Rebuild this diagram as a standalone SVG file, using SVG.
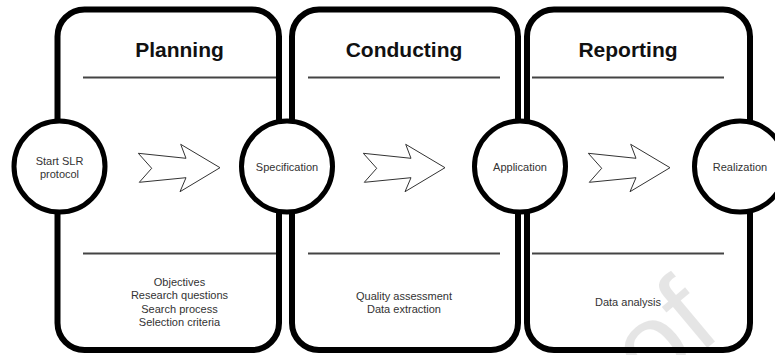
<svg xmlns="http://www.w3.org/2000/svg" width="775" height="355" viewBox="0 0 775 355">
<style>
.box{fill:#fff;stroke:#000;stroke-width:6}
.sep{stroke:#444;stroke-width:2}
.circ{fill:#fff;stroke:#000;stroke-width:5}
.title{font-family:"Liberation Sans",Arial,sans-serif;font-weight:bold;font-size:21px;fill:#111;text-anchor:middle}
.lbl{font-family:"Liberation Sans",Arial,sans-serif;font-size:11px;fill:#333;text-anchor:middle}
.arr{fill:#fff;stroke:#333;stroke-width:1;stroke-linejoin:miter}
.wm{font-family:"Liberation Sans",Arial,sans-serif;font-size:115px;fill:#000;fill-opacity:0.1}
</style>
<defs>
<polygon id="chev" points="138.3,153.3 186,158.3 180.7,144.3 220,167.7 180,191.7 186,177.7 139.3,182.3 151.7,168.3"/>
</defs>
<rect width="775" height="355" fill="#fff"/>
<g id="planning">
<rect class="box" x="57.5" y="9.5" width="221.5" height="340.5" rx="27"/>
<text class="title" x="179.5" y="57.3">Planning</text>
<line class="sep" x1="83" y1="77.5" x2="276" y2="77.5"/>
<line class="sep" x1="83" y1="253.5" x2="276" y2="253.5"/>
<text class="lbl" x="179.5" y="285.5">Objectives</text>
<text class="lbl" x="179.5" y="299">Research questions</text>
<text class="lbl" x="179.5" y="312.5">Search process</text>
<text class="lbl" x="179.5" y="326">Selection criteria</text>
</g>
<g id="conducting">
<rect class="box" x="292" y="9.5" width="226" height="340.5" rx="27"/>
<text class="title" x="404" y="57.3">Conducting</text>
<line class="sep" x1="308" y1="77.5" x2="500" y2="77.5"/>
<line class="sep" x1="308" y1="253.5" x2="500" y2="253.5"/>
<text class="lbl" x="404" y="299.5">Quality assessment</text>
<text class="lbl" x="404" y="313">Data extraction</text>
</g>
<g id="reporting">
<rect class="box" x="527" y="9.5" width="223" height="340.5" rx="27"/>
<text class="title" x="628" y="57.3">Reporting</text>
<line class="sep" x1="532" y1="77.5" x2="724" y2="77.5"/>
<line class="sep" x1="532" y1="253.5" x2="724" y2="253.5"/>
<text class="lbl" x="628" y="305.5">Data analysis</text>
</g>
<g id="connectors">
<use href="#chev" class="arr"/>
<use href="#chev" class="arr" transform="translate(225,0)"/>
<use href="#chev" class="arr" transform="translate(450,0)"/>
</g>
<g id="start">
<circle class="circ" cx="59.5" cy="166.5" r="45.5"/>
<text class="lbl" x="59.5" y="164.5">Start SLR</text>
<text class="lbl" x="59.5" y="178">protocol</text>
</g>
<g id="specification">
<circle class="circ" cx="287" cy="166.5" r="45.5"/>
<text class="lbl" x="287" y="170.5">Specification</text>
</g>
<g id="application">
<circle class="circ" cx="520" cy="166.5" r="45.5"/>
<text class="lbl" x="520" y="170.5">Application</text>
</g>
<g id="realization">
<circle class="circ" cx="740" cy="166.5" r="45.5"/>
<text class="lbl" x="740" y="170.5">Realization</text>
</g>
<text class="wm" transform="translate(724,334) rotate(-40)" text-anchor="end">of</text>
</svg>
